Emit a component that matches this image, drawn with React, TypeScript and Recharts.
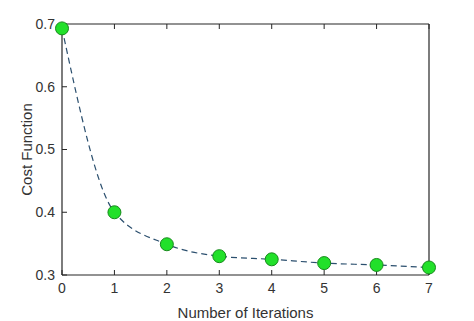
import React from 'react';
import { LineChart, Line, XAxis, YAxis } from 'recharts';

const iterations = [0, 1, 2, 3, 4, 5, 6, 7];
const costValues = [0.693, 0.4, 0.349, 0.33, 0.325, 0.319, 0.316, 0.312];
const xTicks = [0, 1, 2, 3, 4, 5, 6, 7];
const yTicks = [0.3, 0.4, 0.5, 0.6, 0.7];

const data = iterations.map((it, i) => ({ it, cost: costValues[i] }));

const axisColor = '#262626';
const font = 'Liberation Sans, Arial, sans-serif';

const Dot = (props: any) => {
  const { cx, cy } = props;
  if (cx == null || cy == null) return null;
  return <circle cx={cx} cy={cy} r={6.5} fill="#22e02a" stroke="#178a1c" strokeWidth={1} />;
};

const blank = () => '';

export default function App() {
  return (
    <div style={{ position: 'absolute', left: 0, top: 0, width: 474, height: 321, fontFamily: font }}>
      <LineChart width={474} height={321} data={data} margin={{ top: 23, right: 44, bottom: 0, left: 0 }}>
        <XAxis
          xAxisId="b"
          dataKey="it"
          type="number"
          domain={[0, 7]}
          ticks={xTicks}
          height={46}
          tickSize={-5}
          tickMargin={13}
          stroke={axisColor}
          tick={{ fill: '#333', fontSize: 14, fontFamily: font }}
          axisLine={{ stroke: axisColor, strokeWidth: 1.2 }}
          tickLine={{ stroke: axisColor }}
          label={{ value: 'Number of Iterations', position: 'insideBottom', offset: 3, fill: '#333', fontSize: 15, fontFamily: font }}
        />
        <XAxis
          xAxisId="t"
          dataKey="it"
          type="number"
          orientation="top"
          domain={[0, 7]}
          ticks={xTicks}
          height={1}
          tickSize={-5}
          tickFormatter={blank}
          stroke={axisColor}
          axisLine={{ stroke: axisColor, strokeWidth: 1.2 }}
          tickLine={{ stroke: axisColor }}
        />
        <YAxis
          yAxisId="l"
          type="number"
          domain={[0.3, 0.7]}
          ticks={yTicks}
          width={62}
          tickSize={-5}
          tickMargin={12}
          interval={0}
          tickFormatter={(v: number) => v.toFixed(1)}
          stroke={axisColor}
          tick={{ fill: '#333', fontSize: 14, fontFamily: font }}
          axisLine={{ stroke: axisColor, strokeWidth: 1.2 }}
          tickLine={{ stroke: axisColor }}
          label={{ value: 'Cost Function', angle: -90, position: 'center', dx: -4, fill: '#333', fontSize: 15, fontFamily: font }}
        />
        <YAxis
          yAxisId="r"
          type="number"
          orientation="right"
          domain={[0.3, 0.7]}
          ticks={yTicks}
          interval={0}
          width={1}
          tickSize={-5}
          tickFormatter={blank}
          stroke={axisColor}
          axisLine={{ stroke: axisColor, strokeWidth: 1.2 }}
          tickLine={{ stroke: axisColor }}
        />
        <Line
          xAxisId="b"
          yAxisId="l"
          type="monotone"
          dataKey="cost"
          stroke="#2b4f6e"
          strokeWidth={1.2}
          strokeDasharray="6 4"
          dot={<Dot />}
          isAnimationActive={false}
        />
      </LineChart>
    </div>
  );
}
